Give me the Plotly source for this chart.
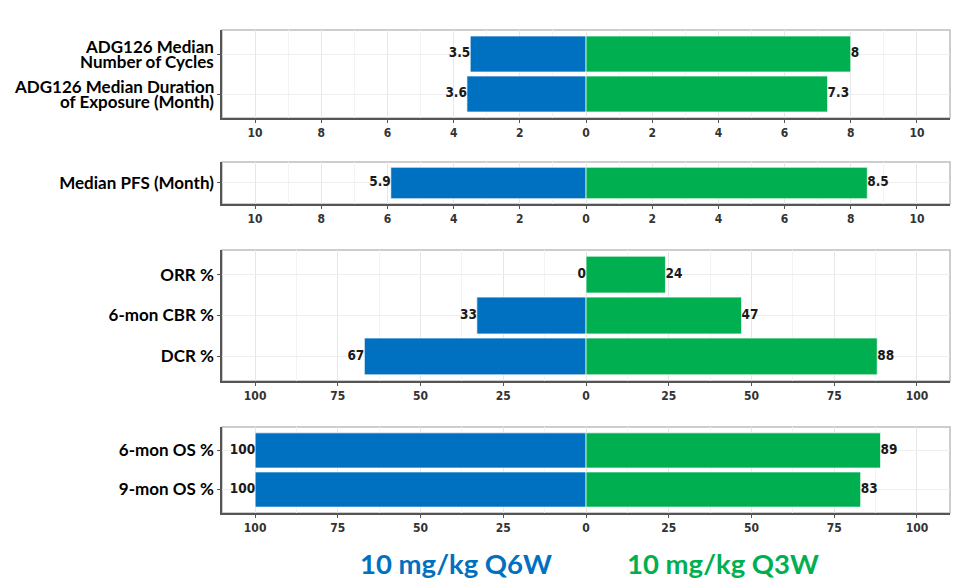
import plotly.graph_objects as go

# ---- data ---------------------------------------------------------------
cats_1 = ["ADG126 Median Number of Cycles", "ADG126 Median Duration of Exposure (Month)"]
lines_1 = [("ADG126 Median", "Number of Cycles"), ("ADG126 Median Duration", "of Exposure (Month)")]
q6w_1 = [3.5, 3.6]
q3w_1 = [8, 7.3]

cats_2 = ["Median PFS (Month)"]
q6w_2 = [5.9]
q3w_2 = [8.5]

cats_3 = ["ORR %", "6-mon CBR %", "DCR %"]
q6w_3 = [0, 33, 67]
q3w_3 = [24, 47, 88]

cats_4 = ["6-mon OS %", "9-mon OS %"]
q6w_4 = [100, 100]
q3w_4 = [89, 83]

month_ticks = [-10, -8, -6, -4, -2, 0, 2, 4, 6, 8, 10]
pct_ticks = [-100, -75, -50, -25, 0, 25, 50, 75, 100]

arm_left = "10 mg/kg Q6W"
arm_right = "10 mg/kg Q3W"

# ---- style --------------------------------------------------------------
BLUE = "#0070C0"
GREEN = "#00B050"
NARROW = "Liberation Sans Narrow, DejaVu Sans Condensed, sans-serif"
LABEL_FAMILY = "Lato, Carlito, Calibri, sans-serif"
TICK_FONT = dict(family=NARROW, size=12, color="#333333", weight="bold")
LABEL_FONT = dict(family=LABEL_FAMILY, size=17, color="#000000", weight="bold")
VALUE_FONT = dict(family=NARROW, size=13.5, color="#1a1a1a", weight="bold")

panels = [
    (cats_1, q6w_1, q3w_1, month_ticks, 11, 1, [0.7983, 0.9487]),
    (cats_2, q6w_2, q3w_2, month_ticks, 11, 1, [0.6513, 0.7231]),
    (cats_3, q6w_3, q3w_3, pct_ticks, 110, 12.5, [0.3487, 0.5726]),
    (cats_4, q6w_4, q3w_4, pct_ticks, 110, 12.5, [0.1231, 0.2701]),
]

fig = go.Figure()
layout = {}
shapes = []
annotations = []

for i, (cats, left, right, ticks, lim, minor_step, ydom) in enumerate(panels, start=1):
    sfx = "" if i == 1 else str(i)
    xa, ya = "x" + sfx, "y" + sfx

    fig.add_trace(go.Bar(
        orientation="h", y=cats, x=[-v for v in left], width=0.9,
        marker=dict(color=BLUE, line=dict(color="rgba(255,255,255,0.7)", width=1)),
        xaxis=xa, yaxis=ya, showlegend=False, hoverinfo="skip"))
    fig.add_trace(go.Bar(
        orientation="h", y=cats, x=right, width=0.9,
        marker=dict(color=GREEN, line=dict(color="rgba(255,255,255,0.7)", width=1)),
        xaxis=xa, yaxis=ya, showlegend=False, hoverinfo="skip"))

    # value labels at the bar ends
    fig.add_trace(go.Scatter(
        x=[-v for v in left], y=cats, mode="text", text=[f"{v:g}" for v in left],
        textposition="middle left", textfont=VALUE_FONT,
        xaxis=xa, yaxis=ya, showlegend=False, hoverinfo="skip", cliponaxis=False))
    fig.add_trace(go.Scatter(
        x=right, y=cats, mode="text", text=[f"{v:g}" for v in right],
        textposition="middle right", textfont=VALUE_FONT,
        xaxis=xa, yaxis=ya, showlegend=False, hoverinfo="skip", cliponaxis=False))

    layout["xaxis" + sfx] = dict(
        domain=[0.2325, 0.9948], anchor=ya, range=[-lim, lim],
        tickmode="array", tickvals=ticks, ticktext=[f"{abs(t):g}" for t in ticks],
        tickfont=TICK_FONT, ticks="outside", ticklen=3, tickcolor="#555555",
        showline=True, linecolor="#555555", linewidth=1.5,
        showgrid=True, gridcolor="#e6e6e6", gridwidth=1, zeroline=False,
        minor=dict(tickmode="linear", tick0=0, dtick=minor_step,
                   showgrid=True, gridcolor="#f3f3f3", gridwidth=1),
        fixedrange=True)
    layout["yaxis" + sfx] = dict(
        domain=ydom, anchor=xa, type="category", categoryarray=cats,
        range=[len(cats) - 0.4, -0.6],
        tickfont=LABEL_FONT, ticks="outside", ticklen=3, tickcolor="#555555",
        showticklabels=(i != 1),
        showline=True, linecolor="#555555", linewidth=1.5,
        showgrid=True, gridcolor="#eeeeee", zeroline=False, fixedrange=True)

    # light panel border (top and right sides)
    shapes.append(dict(type="rect", xref=xa + " domain", yref=ya + " domain",
                       x0=0, x1=1, y0=0, y1=1,
                       line=dict(color="#bdbdbd", width=1.5), layer="below"))

# two-line category labels of the first panel, set with tight line spacing
for cat, (top, bottom) in zip(cats_1, lines_1):
    for text, shift in ((top, 7.5), (bottom, -7.5)):
        annotations.append(dict(
            text=text, x=0, y=cat, xref="x domain", yref="y",
            xanchor="right", yanchor="middle", xshift=-6, yshift=shift,
            showarrow=False, font=LABEL_FONT))

annotations += [
    dict(text=arm_left, x=0.477, y=0.037, xref="paper", yref="paper",
         xanchor="center", yanchor="middle", showarrow=False,
         font=dict(family=LABEL_FAMILY, size=27.5, color=BLUE, weight="bold")),
    dict(text=arm_right, x=0.757, y=0.037, xref="paper", yref="paper",
         xanchor="center", yanchor="middle", showarrow=False,
         font=dict(family=LABEL_FAMILY, size=27.5, color=GREEN, weight="bold")),
]

fig.update_layout(
    width=955, height=585,
    margin=dict(l=0, r=0, t=0, b=0),
    paper_bgcolor="white", plot_bgcolor="white",
    barmode="relative",
    shapes=shapes,
    annotations=annotations,
    **layout,
)

fig.write_html("out.html")
